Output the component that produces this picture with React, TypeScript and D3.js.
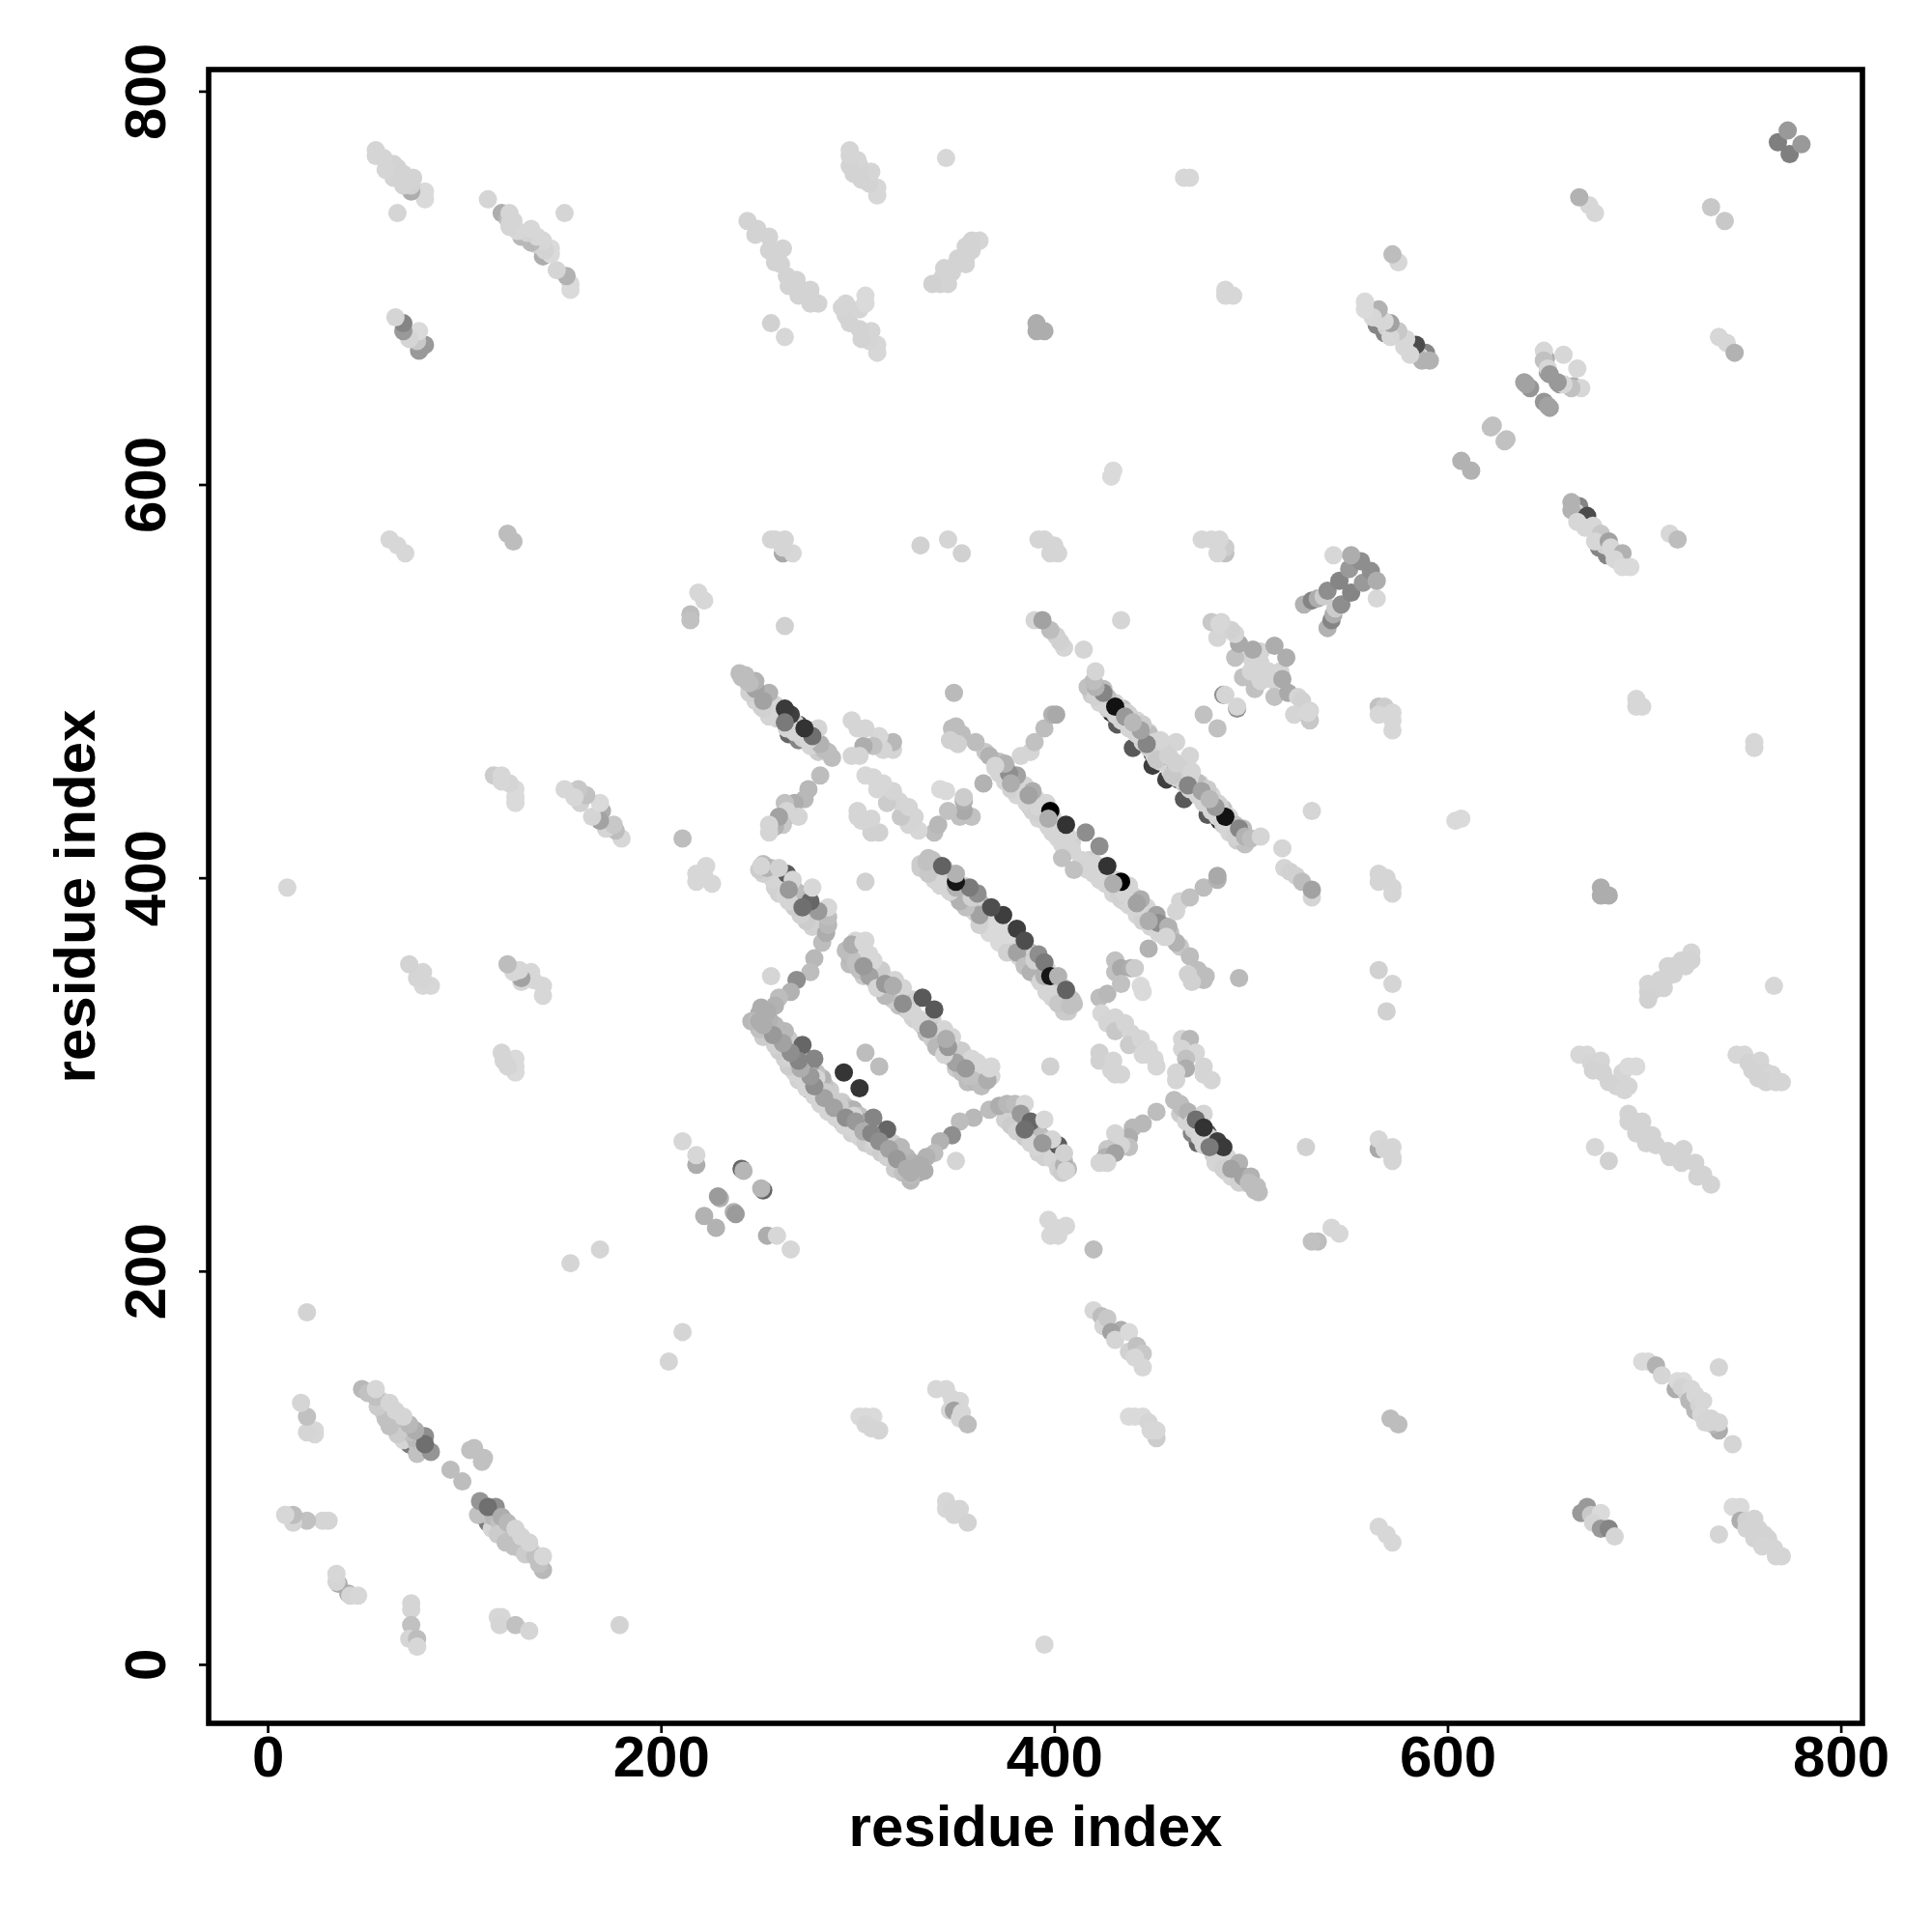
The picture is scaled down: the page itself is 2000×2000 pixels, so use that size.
import { useEffect, useRef } from "react";
import * as d3 from "d3";

// every contact is [residue i, residue j, strength 0-100], the map is symmetric so
// only one side of the diagonal is listed and the other is mirrored when drawing
type Contact = [number, number, number];

const tickLabels = [0, 200, 400, 600, 800];
const axisLabel = "residue index";

// corner and far off-diagonal patches
const diagonalEnd: Contact[] = [[774, 768, 43], [780, 773, 31]];
const patch740: Contact[] = [[741, 734, 10], [738, 675, 3], [742, 672, 3], [746, 667, 20], [713, 575, 3], [717, 572, 15]];
const patch650: Contact[] = [
  [657, 651, 31], [664, 650, 22], [668, 649, 3], [666, 659, 3], [663, 649, 13], [659, 651, 3],
  [656, 652, 31], [652, 639, 27], [649, 642, 33], [651, 640, 27], [630, 623, 13], [622, 629, 13], [612, 607, 20],
];
const band590: Contact[] = [
  [681, 564, 40], [677, 568, 40], [667, 589, 40], [665, 586, 4], [668, 584, 8], [672, 578, 6],
  [676, 574, 4], [680, 569, 6], [684, 566, 4], [687, 561, 4],
  [663, 591, 20], [663, 587, 20], [671, 584, 66],
  [666, 581, 3], [674, 579, 3], [670, 578, 3], [678, 575, 10], [675, 571, 3], [682, 571, 27],
  [683, 568, 3], [689, 565, 20], [685, 562, 3], [689, 558, 2], [693, 558, 2],
];
const patch550: Contact[] = [
  [539, 527, 20], [541, 531, 40], [542, 534, 22], [543, 537, 8], [546, 539, 36], [551, 545, 40],
  [557, 550, 31], [564, 542, 3], [561, 556, 36], [564, 551, 22],
];
const patch500: Contact[] = [
  [493, 486, 36], [493, 487, 4], [483, 476, 13], [502, 496, 13], [505, 500, 4], [509, 505, 4],
  [512, 500, 4], [515, 505, 4], [512, 492, 13], [518, 512, 22], [516, 501, 24], [519, 494, 24],
  [524, 492, 4], [526, 490, 6], [522, 483, 4], [530, 485, 4], [530, 480, 10], [529, 484, 3],
];
const patch480: Contact[] = [
  [565, 487, 13], [568, 487, 8], [565, 483, 3], [572, 484, 3], [572, 480, 3], [572, 475, 3],
  [696, 491, 3], [696, 487, 3], [699, 487, 3], [756, 469, 3], [756, 466, 3], [604, 429, 2], [607, 430, 2],
];
const patch400: Contact[] = [
  [565, 402, 4], [565, 398, 4], [569, 400, 4], [572, 395, 4], [572, 392, 4],
  [678, 395, 22], [678, 391, 22], [682, 391, 22],
  [565, 353, 6], [572, 346, 4], [569, 332, 6], [766, 345, 3],
];
const band350: Contact[] = [
  [724, 362, 4], [724, 358, 5], [719, 358, 5], [721, 355, 5], [715, 355, 5], [712, 355, 5], [715, 351, 5],
  [712, 350, 5], [708, 348, 5], [702, 346, 5], [710, 344, 5], [702, 342, 5], [705, 343, 5], [702, 338, 6],
];
const band300: Contact[] = [
  [667, 310, 3], [671, 310, 3], [673, 306, 4], [678, 307, 4], [674, 302, 5], [679, 301, 5],
  [682, 296, 5], [686, 294, 5], [690, 292, 4], [689, 301, 4], [692, 294, 4], [692, 304, 2], [696, 304, 2],
  [747, 310, 3], [751, 310, 3], [753, 306, 5], [759, 307, 4], [755, 302, 5], [762, 301, 5],
  [758, 298, 5], [765, 300, 4], [762, 296, 5], [767, 296, 4], [770, 296, 4],
];
const band260: Contact[] = [
  [692, 280, 5], [692, 276, 5], [696, 276, 5], [699, 276, 5], [696, 270, 5], [700, 270, 5],
  [704, 269, 5], [701, 265, 5], [706, 264, 5], [712, 261, 5], [713, 258, 5], [720, 262, 5],
  [719, 255, 5], [726, 255, 5], [727, 248, 5], [730, 249, 5], [734, 244, 5],
  [675, 263, 3], [682, 256, 6],
  [565, 262, 24], [565, 267, 3], [568, 262, 4], [572, 263, 4], [572, 258, 4], [572, 256, 4],
  [528, 263, 6],
];
const patch215: Contact[] = [
  [534, 215, 15], [541, 222, 3], [545, 219, 3], [531, 215, 13],
  [397, 226, 3], [406, 223, 3], [401, 222, 3], [398, 218, 3], [402, 218, 3], [420, 211, 15],
  [254, 218, 22], [259, 218, 3], [266, 211, 3],
  [252, 241, 54], [251, 242, 18], [237, 230, 20], [238, 229, 30], [228, 222, 20],
  [211, 169, 4], [204, 154, 4],
];
const band160: Contact[] = [
  [420, 180, 3], [424, 177, 15], [425, 172, 4], [427, 176, 10], [434, 170, 22], [429, 169, 27],
  [431, 165, 4], [438, 169, 2], [438, 159, 6], [442, 162, 13], [445, 158, 10], [441, 156, 3], [445, 151, 3],
  [699, 154, 2], [702, 154, 2], [706, 152, 20], [709, 147, 4],
  [716, 140, 22], [717, 144, 2], [720, 144, 2], [719, 141, 5], [722, 137, 5], [724, 140, 3], [723, 134, 17], [726, 129, 17],
  [726, 137, 3], [728, 132, 5], [730, 134, 3], [729, 127, 3], [738, 119, 22], [735, 122, 17], [733, 123, 5],
  [734, 125, 4], [731, 123, 4], [738, 123, 4], [745, 112, 4], [738, 151, 4],
];
const band120: Contact[] = [
  [340, 140, 3], [345, 140, 3], [348, 135, 3], [352, 134, 3], [347, 129, 3], [349, 129, 27],
  [353, 128, 3], [352, 125, 3], [356, 122, 15],
  [301, 126, 2], [304, 126, 2], [308, 126, 2], [304, 122, 4], [307, 120, 4], [311, 119, 4],
  [438, 126, 2], [441, 126, 2], [445, 126, 2], [448, 123, 4], [452, 115, 8], [449, 119, 3], [452, 119, 3],
  [571, 125, 15], [575, 122, 15],
];
const band70: Contact[] = [
  [345, 83, 3], [345, 79, 3], [348, 79, 4], [352, 79, 4], [349, 76, 4], [356, 72, 5],
  [671, 80, 31], [668, 77, 31], [673, 76, 10], [678, 77, 2], [674, 72, 4], [678, 69, 31], [682, 69, 40], [685, 65, 4],
  [565, 70, 3], [569, 66, 3], [572, 62, 3],
  [745, 80, 2], [749, 80, 2], [749, 73, 22], [752, 73, 6], [756, 74, 5], [752, 69, 5], [758, 69, 5],
  [756, 64, 5], [761, 66, 5], [763, 64, 5], [760, 60, 4], [766, 59, 4], [767, 55, 4], [770, 55, 4],
  [738, 66, 4], [395, 10, 3],
];
const band80: Contact[] = [
  [110, 75, 54], [115, 70, 50], [112, 72, 45], [118, 68, 36],
  [107, 76, 13], [114, 69, 4], [112, 76, 13], [115, 75, 17], [118, 72, 13], [120, 68, 8], [123, 66, 6], [127, 63, 4],
  [130, 60, 4], [134, 58, 4], [117, 66, 8], [124, 64, 13], [128, 59, 6], [138, 54, 8],
  [121, 62, 13], [125, 60, 13], [131, 56, 8], [136, 55, 13], [140, 48, 17], [138, 51, 13],
  [108, 83, 33], [116, 80, 36], [112, 80, 50], [119, 75, 22], [122, 72, 17], [126, 69, 4], [129, 65, 4], [133, 62, 4], [140, 55, 3],
  [109, 103, 13], [105, 110, 13], [99, 93, 15],
];
const patchLowEnd: Contact[] = [
  [179, 20, 5],
  [41, 36, 22], [42, 35, 4], [46, 35, 3],
  [73, 31, 4], [73, 28, 4], [73, 20, 13], [72, 13, 4], [76, 9, 4], [76, 13, 15],
  [76, 9, 3], [117, 24, 3], [119, 24, 3], [118, 20, 4], [126, 20, 13], [133, 17, 4],
];

// the strands near the middle of the map, dark slivers first, strong contacts last
const strandA: Contact[] = [
  [379, 363, 72], [385, 359, 72], [391, 352, 86], [397, 345, 72], [403, 340, 54],
  [378, 372, 6], [381, 368, 13], [384, 365, 4], [388, 362, 17], [390, 360, 4], [393, 356, 13], [396, 354, 4],
  [400, 349, 13], [402, 346, 4], [405, 344, 10], [407, 340, 4], [409, 338, 13],
  [376, 366, 4], [379, 365, 4], [382, 360, 6], [384, 358, 4], [386, 357, 10], [389, 353, 4], [392, 349, 6],
  [394, 347, 4], [397, 344, 4], [400, 341, 6], [403, 336, 4], [405, 335, 8], [407, 332, 8],
  [372, 367, 2], [376, 362, 6], [376, 371, 2], [381, 362, 27], [385, 355, 13], [388, 352, 20], [393, 347, 4],
  [396, 342, 4], [399, 339, 4], [405, 332, 8], [402, 336, 10], [390, 358, 6], [395, 350, 20],
  [408, 335, 13], [410, 336, 13],
  [381, 374, 72], [385, 368, 65], [392, 361, 36], [395, 357, 45], [398, 350, 90], [402, 350, 20], [406, 343, 56],
];
const strandB: Contact[] = [
  [418, 406, 54], [438, 392, 50], [449, 381, 45], [436, 388, 40],
  [418, 409, 6], [421, 407, 4], [424, 405, 13], [427, 402, 4], [431, 399, 6], [434, 395, 4], [437, 393, 10],
  [441, 389, 4], [445, 386, 13], [448, 383, 4], [451, 379, 10], [455, 376, 13], [459, 372, 13], [464, 365, 10],
  [417, 404, 4], [420, 402, 4], [423, 399, 4], [426, 397, 4], [430, 392, 4], [434, 389, 6], [438, 386, 4],
  [442, 381, 4], [445, 378, 6], [449, 375, 4], [453, 372, 4],
  [414, 409, 4], [410, 404, 13], [423, 416, 36],
  [420, 406, 4], [424, 402, 4], [429, 395, 4], [433, 391, 6], [436, 392, 4], [438, 396, 4], [440, 391, 4],
  [444, 385, 4], [447, 385, 4], [450, 380, 6], [452, 375, 4], [456, 370, 4],
  [427, 406, 77], [434, 398, 100], [444, 389, 22], [452, 381, 27], [453, 377, 36], [458, 375, 20],
  [462, 367, 20], [457, 370, 4], [469, 360, 15], [473, 353, 15], [476, 348, 15], [477, 350, 15],
  [468, 351, 6], [470, 347, 6],
  [448, 364, 20], [494, 349, 16],
  [462, 383, 4], [464, 388, 4], [469, 390, 13], [476, 395, 15], [483, 399, 20], [483, 401, 24],
];
const strandC: Contact[] = [
  [484, 429, 80], [470, 444, 72], [463, 450, 54], [457, 450, 72], [466, 440, 60], [478, 432, 60],
  [461, 459, 4], [464, 457, 6], [467, 453, 13], [470, 451, 4], [474, 448, 6], [477, 444, 10], [480, 442, 4],
  [483, 438, 6], [486, 435, 13], [489, 431, 4], [492, 427, 13], [496, 425, 15],
  [459, 454, 4], [462, 451, 4], [466, 448, 6], [469, 445, 4], [473, 442, 4], [476, 438, 4], [480, 434, 6],
  [483, 431, 4], [486, 427, 6], [489, 423, 4], [493, 419, 8], [497, 417, 13],
  [462, 456, 20], [472, 449, 16], [469, 462, 4], [473, 448, 15], [475, 440, 4], [469, 451, 4],
  [480, 435, 4], [487, 428, 4], [490, 424, 4], [465, 455, 6], [460, 452, 10], [470, 454, 4], [478, 445, 8],
  [484, 437, 6], [462, 458, 6], [492, 421, 6], [495, 423, 6],
  [487, 431, 92], [494, 425, 40], [497, 421, 20], [500, 420, 15],
  [505, 421, 4], [516, 415, 4], [517, 405, 4], [520, 403, 6], [523, 401, 6], [526, 398, 15], [531, 390, 4], [531, 394, 27],
  [531, 434, 4],
];
const strandD: Contact[] = [
  [473, 265, 54], [478, 270, 63], [491, 249, 54], [470, 270, 40], [485, 258, 40],
  [464, 285, 15], [467, 279, 8], [470, 278, 13], [473, 274, 8], [476, 270, 4], [479, 268, 6], [482, 262, 4],
  [485, 260, 8], [488, 255, 4], [491, 253, 8], [494, 250, 6], [497, 245, 8], [500, 244, 13], [502, 241, 15],
  [464, 280, 8], [467, 276, 4], [471, 272, 6], [474, 268, 4], [477, 265, 4], [481, 259, 6], [484, 256, 4],
  [487, 251, 6], [490, 248, 4], [494, 245, 6],
  [452, 281, 15], [445, 275, 17], [440, 273, 17], [438, 268, 22], [432, 266, 22], [438, 263, 13],
  [431, 270, 4], [434, 264, 4], [427, 262, 10], [426, 258, 20], [431, 260, 27], [423, 255, 4], [427, 255, 4],
  [461, 287, 15], [465, 283, 15], [468, 281, 20], [470, 275, 4], [476, 280, 4], [476, 264, 4], [480, 262, 4],
  [482, 255, 4], [488, 258, 4], [486, 252, 6],
  [472, 277, 50], [476, 273, 77], [483, 266, 72], [486, 263, 74], [494, 255, 20], [496, 248, 27],
  [500, 248, 20], [499, 245, 15], [503, 243, 15], [501, 243, 15], [504, 240, 15],
];
const strandE: Contact[] = [
  [386, 272, 54], [380, 276, 60], [376, 278, 13], [392, 270, 54], [398, 262, 60],
  [375, 281, 13], [378, 279, 15], [381, 278, 20], [384, 276, 22], [387, 273, 27], [390, 272, 17], [394, 268, 15],
  [397, 266, 10], [400, 262, 8], [403, 258, 10], [405, 256, 13], [407, 252, 15],
  [375, 277, 6], [378, 274, 8], [381, 271, 6], [385, 268, 8], [388, 265, 4], [392, 260, 6], [395, 258, 6],
  [399, 257, 4], [402, 252, 6], [404, 250, 8],
  [367, 282, 15], [359, 278, 17], [352, 276, 15], [348, 269, 36], [342, 266, 20], [350, 256, 4],
  [339, 260, 15], [335, 258, 20], [332, 254, 22], [327, 250, 22],
  [372, 284, 22], [376, 285, 17], [380, 285, 15], [385, 285, 3], [383, 280, 31], [388, 276, 54],
  [391, 263, 4], [395, 277, 3], [402, 264, 59], [399, 267, 4], [405, 254, 20], [406, 251, 4], [405, 260, 6],
];
const strandF: Contact[] = [
  [300, 271, 60], [292, 276, 60], [322, 255, 72], [318, 257, 60],
  [287, 288, 4], [292, 286, 8], [295, 283, 13], [298, 282, 20], [301, 279, 13], [305, 276, 27], [309, 273, 22],
  [312, 270, 13], [315, 268, 15], [318, 265, 8], [321, 261, 13], [325, 258, 17], [328, 255, 20], [331, 250, 22], [334, 251, 22],
  [285, 281, 4], [289, 278, 4], [293, 274, 4], [297, 270, 6], [301, 268, 4], [304, 265, 8], [308, 263, 6],
  [312, 260, 8], [315, 258, 6], [319, 252, 8], [323, 250, 13], [327, 246, 17],
  [282, 286, 4], [291, 284, 8], [298, 279, 4], [296, 273, 4], [304, 274, 4], [309, 266, 4],
  [308, 278, 40], [315, 272, 54], [322, 263, 17], [327, 249, 15], [331, 253, 22],
  [301, 293, 76], [311, 304, 15],
];
const strandG: Contact[] = [
  [352, 310, 63],
  [335, 326, 17], [338, 328, 6], [341, 322, 13], [344, 320, 8], [347, 316, 13], [350, 313, 6], [353, 312, 8],
  [356, 306, 4], [358, 308, 3], [360, 303, 13], [363, 300, 17], [364, 297, 20], [368, 304, 3], [365, 301, 3], [368, 299, 3],
  [329, 328, 6], [332, 328, 4], [335, 321, 13], [338, 318, 8], [341, 316, 13], [344, 312, 6], [347, 309, 10],
  [350, 303, 8], [353, 301, 13], [356, 296, 15], [360, 296, 17], [363, 294, 15],
  [350, 306, 27], [340, 314, 17], [333, 325, 17], [357, 299, 13], [366, 297, 22],
  [326, 332, 4], [344, 323, 4], [348, 319, 4], [344, 310, 4], [361, 306, 3], [367, 303, 3],
  [339, 333, 60], [398, 304, 6],
];
const patchesCentre: Contact[] = [
  [431, 358, 13], [431, 352, 13], [434, 354, 24], [439, 354, 22], [441, 354, 8], [423, 339, 15], [427, 341, 17],
  [434, 346, 13], [444, 345, 2], [445, 342, 2],
  [424, 331, 3], [431, 329, 4], [427, 326, 4], [431, 322, 10], [436, 326, 4], [439, 321, 4], [438, 315, 8],
  [444, 318, 4], [448, 313, 3], [445, 310, 3], [451, 308, 3], [452, 304, 3],
  [423, 311, 6], [423, 307, 6], [430, 307, 4], [429, 302, 4], [434, 300, 4], [431, 300, 4],
  [465, 318, 4], [469, 318, 17], [465, 313, 4], [472, 311, 3], [467, 308, 13], [467, 303, 22],
  [476, 304, 4], [462, 301, 4], [462, 297, 4], [476, 300, 4], [480, 297, 4],
];
// mid greys scattered over the strands
const strandAccents: Contact[] = [
  [288, 283, 27], [294, 278, 36], [299, 276, 31], [303, 271, 22], [307, 270, 40], [311, 266, 36],
  [316, 262, 27], [320, 257, 31], [325, 252, 22],
  [468, 447, 40], [475, 444, 27], [482, 436, 31], [479, 440, 17],
  [430, 397, 22], [442, 387, 27], [448, 378, 22],
  [336, 323, 36], [346, 314, 31], [355, 303, 31], [345, 318, 22],
  [385, 272, 50], [394, 265, 31], [479, 263, 45], [490, 252, 27],
];

const contactGroups = [
  diagonalEnd, patch740, patch650, band590, patch550, patch500, patch480, patch400, band350,
  band300, band260, patch215, band160, band120, band70, band80, patchLowEnd,
  strandF, strandG, strandA, strandE, strandD, patchesCentre, strandB, strandC, strandAccents,
];

const App = () => {
  const svgRef = useRef<SVGSVGElement>(null);

  useEffect(() => {
    if (!svgRef.current) return;
    const svg = d3.select(svgRef.current);
    svg.selectAll("*").remove();

    const x = d3.scaleLinear().domain([-30, 811]).range([216, 1928]);
    const y = d3.scaleLinear().domain([-30, 811]).range([1784, 72]);
    const gray = d3.scaleLinear().domain([0, 100]).range([222, 0]);
    const shade = (s: number) => {
      const g = Math.round(gray(s));
      return `rgb(${g},${g},${g})`;
    };

    const points = svg.append("g");
    contactGroups.forEach((group) => {
      // both sides of the diagonal keep the listed order, so slivers stay under
      const both = group.flatMap(([i, j, s]) => [
        [i, j, s],
        [j, i, s],
      ]);
      points
        .selectAll(null)
        .data(both)
        .enter()
        .append("circle")
        .attr("cx", (d) => x(d[0]))
        .attr("cy", (d) => y(d[1]))
        .attr("r", 9.5)
        .attr("fill", (d) => shade(d[2]));
    });

    svg
      .append("rect")
      .attr("x", 216)
      .attr("y", 72)
      .attr("width", 1712)
      .attr("height", 1712)
      .attr("fill", "none")
      .attr("stroke", "#000")
      .attr("stroke-width", 5.6);

    const xAxis = svg
      .append("g")
      .attr("transform", "translate(0,1784)")
      .call(d3.axisBottom(x).tickValues(tickLabels).tickSize(10).tickPadding(4));
    const yAxis = svg
      .append("g")
      .attr("transform", "translate(216,0)")
      .call(d3.axisLeft(y).tickValues(tickLabels).tickSize(10));

    [xAxis, yAxis].forEach((a) => {
      a.select(".domain").remove();
      a.selectAll("line").attr("stroke", "#000").attr("stroke-width", 2.7);
    });

    const font = "'Liberation Sans', Arial, sans-serif";
    xAxis
      .selectAll("text")
      .attr("y", 55)
      .attr("dy", 0)
      .attr("font-family", font)
      .attr("font-weight", 700)
      .attr("font-size", 60)
      .attr("fill", "#000");

    yAxis
      .selectAll("text")
      .attr("x", 0)
      .attr("dy", 0)
      .attr("text-anchor", "middle")
      .attr("transform", "translate(-45,0) rotate(-90)")
      .attr("font-family", font)
      .attr("font-weight", 700)
      .attr("font-size", 60)
      .attr("fill", "#000");

    svg
      .append("text")
      .attr("x", 1072)
      .attr("y", 1911)
      .attr("text-anchor", "middle")
      .attr("font-family", font)
      .attr("font-weight", 700)
      .attr("font-size", 60)
      .text(axisLabel);

    svg
      .append("text")
      .attr("transform", "translate(98,928) rotate(-90)")
      .attr("text-anchor", "middle")
      .attr("font-family", font)
      .attr("font-weight", 700)
      .attr("font-size", 60)
      .text(axisLabel);
  }, []);

  return (
    <svg
      ref={svgRef}
      width={2000}
      height={2000}
      style={{ position: "absolute", left: 0, top: 0, background: "#fff" }}
    />
  );
};

export default App;
